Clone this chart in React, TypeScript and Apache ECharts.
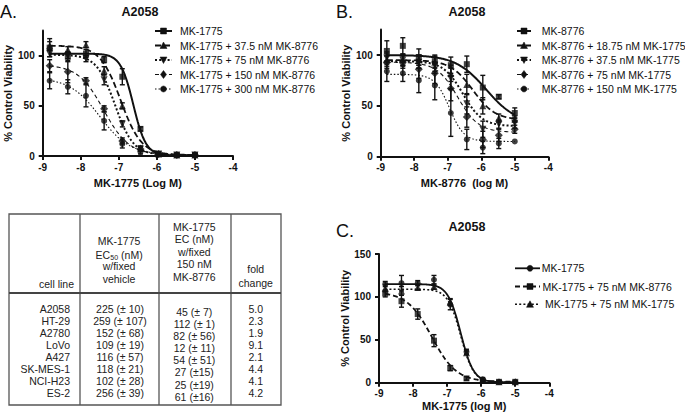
import React, { useEffect, useRef } from "react";
import * as echarts from "echarts";

const FONT = '"Liberation Sans", Arial, Helvetica, sans-serif';
const INK = "#111";
const TABLE_INK = "#222";

// ---------- shared x values (log M, 3-fold dilutions) ----------
const logConc = [-8.817, -8.34, -7.863, -7.386, -6.908, -6.431, -5.954, -5.477, -5.0];

// ---------- Panel A : MK-1775 with fixed MK-8776 ----------
const aLabels = [
  "MK-1775",
  "MK-1775 + 37.5 nM MK-8776",
  "MK-1775 + 75 nM MK-8776",
  "MK-1775 + 150 nM MK-8776",
  "MK-1775 + 300 nM MK-8776",
];
const aMK1775 = [108, 99, 102, 96, 79, 27, 2, 1, 1];
const aMK1775Err = [9, 5, 4, 3, 8, 2, 1, 1, 1];
const aPlus37 = [110, 106, 111, 85, 50, 8, 2, 1, 1];
const aPlus37Err = [4, 3, 3, 4, 3, 2, 1, 1, 1];
const aPlus75 = [102, 100, 97, 76, 32, 7, 2, 1, 1];
const aPlus75Err = [3, 3, 3, 5, 3, 2, 1, 1, 1];
const aPlus150 = [90, 84, 75, 47, 15, 7, 2, 1, 1];
const aPlus150Err = [6, 11, 3, 3, 3, 2, 1, 1, 1];
const aPlus300 = [75, 69, 60, 35, 12, 4, 2, 1, 1];
const aPlus300Err = [8, 7, 11, 9, 4, 2, 1, 1, 1];
// fitted curve parameters: [top, bottom, logEC50, hill]
const aFitMK1775 = [102, 0.5, -6.62, 2.6];
const aFitPlus37 = [110, 1, -6.95, 1.6];
const aFitPlus75 = [101, 1, -7.1, 1.8];
const aFitPlus150 = [91, 1, -7.4, 1.3];
const aFitPlus300 = [78, 1, -7.5, 1.1];

// ---------- Panel B : MK-8776 with fixed MK-1775 ----------
const bLabels = [
  "MK-8776",
  "MK-8776 + 18.75 nM MK-1775",
  "MK-8776 + 37.5 nM MK-1775",
  "MK-8776 + 75 nM MK-1775",
  "MK-8776 + 150 nM MK-1775",
];
const bMK8776 = [104, 109, 98, 94, 90, 91, 68, 59, 43];
const bMK8776Err = [10, 8, 8, 6, 8, 8, 12, 2, 5];
const bPlus18 = [95, 95, 95, 93, 82, 71, 50, 38, 37];
const bPlus18Err = [6, 6, 5, 6, 8, 10, 8, 4, 3];
const bPlus37 = [97, 95, 93, 90, 77, 52, 27, 32, 33];
const bPlus37Err = [6, 5, 6, 8, 10, 10, 8, 4, 5];
const bPlus75 = [93, 93, 86, 82, 67, 39, 17, 21, 27];
const bPlus75Err = [6, 6, 9, 10, 12, 10, 8, 6, 4];
const bPlus150 = [84, 82, 75, 70, 43, 17, 9, 13, 15];
const bPlus150Err = [10, 8, 12, 14, 23, 10, 6, 5, 0];
const bFitMK8776 = [100, 32, -5.85, 0.95];
const bFitPlus18 = [95, 36, -6.25, 1.3];
const bFitPlus37 = [94, 30, -6.55, 1.5];
const bFitPlus75 = [93, 24, -6.7, 1.4];
const bFitPlus150 = [81, 15, -6.95, 2];

// ---------- Panel C ----------
const cLabels = ["MK-1775", "MK-1775 + 75 nM MK-8776", "MK-1775 + 75 nM MK-1775"];
const cMK1775 = [115, 116, 116, 120, 91, 36, 4, 1, 1];
const cMK1775Err = [3, 9, 3, 5, 6, 3, 2, 1, 1];
const cPlus8776 = [104, 95, 80, 49, 17, 5, 2, 1, 1];
const cPlus8776Err = [4, 7, 6, 7, 3, 2, 1, 1, 1];
const cPlus1775 = [110, 107, 111, 112, 94, 35, 3, 1, 1];
const cPlus1775Err = [4, 5, 3, 3, 4, 2, 1, 1, 1];
const cFitMK1775 = [115, 0.5, -6.6, 2.3];
const cFitPlus8776 = [106, 1, -7.45, 1.2];
const cFitPlus1775 = [109, 0.5, -6.6, 2.3];

// ---------- Table ----------
const tableCellLines = ["A2058", "HT-29", "A2780", "LoVo", "A427", "SK-MES-1", "NCI-H23", "ES-2"];
const tableVehicleEC50 = ["225 (± 10)", "259 (± 107)", "152 (± 68)", "109 (± 19)", "116 (± 57)", "118 (± 21)", "102 (± 28)", "256 (± 39)"];
const tableFixedEC50 = ["45 (± 7)", "112 (± 1)", "82 (± 56)", "12 (± 11)", "54 (± 51)", "27 (±15)", "25 (±19)", "61 (±16)"];
const tableFoldChange = ["5.0", "2.3", "1.9", "9.1", "2.1", "4.4", "4.1", "4.2"];

// ---------- styles ----------
const lineStyles5 = [
  { type: "solid", width: 2 },
  { type: [6, 3], width: 1.8 },
  { type: [2, 2.2], width: 2 },
  { type: [4, 3], width: 1.1 },
  { type: [1.5, 2], width: 1.1 },
];
const symbols5 = ["square", "triangle", "invtriangle", "diamond", "circle"];
const lineStylesC = [
  { type: "solid", width: 1.8 },
  { type: [5, 3], width: 1.8 },
  { type: [2, 2.2], width: 1.6 },
];
const symbolsC = ["circle", "square", "triangle"];

function logistic(p: number[], x: number) {
  const [top, bottom, x0, h] = p;
  return bottom + (top - bottom) / (1 + Math.pow(10, h * (x - x0)));
}
function fitCurve(p: number[]) {
  const pts: number[][] = [];
  const x0 = logConc[0];
  const x1 = logConc[logConc.length - 1];
  const n = 160;
  for (let i = 0; i <= n; i++) {
    const x = x0 + ((x1 - x0) * i) / n;
    pts.push([x, logistic(p, x)]);
  }
  return pts;
}

function seriesSymbol(s: string) {
  switch (s) {
    case "square":
      return { symbol: "rect", symbolSize: 6, symbolRotate: 0 };
    case "triangle":
      return { symbol: "triangle", symbolSize: 7, symbolRotate: 0 };
    case "invtriangle":
      return { symbol: "triangle", symbolSize: 7, symbolRotate: 180 };
    case "diamond":
      return { symbol: "diamond", symbolSize: 8, symbolRotate: 0 };
    default:
      return { symbol: "circle", symbolSize: 6, symbolRotate: 0 };
  }
}

function errorBarSeries(idx: number, vals: number[], errs: number[]) {
  return {
    type: "custom",
    xAxisIndex: idx,
    yAxisIndex: idx,
    silent: true,
    z: 3,
    encode: { x: 0, y: 1 },
    data: logConc.map((x, i) => [x, vals[i], errs[i]]),
    renderItem: (_p: any, api: any) => {
      const x = api.value(0);
      const y = api.value(1);
      const e = api.value(2);
      if (!e) return { type: "group", children: [] };
      const hi = api.coord([x, y + e]);
      const lo = api.coord([x, y - e]);
      const st = { stroke: INK, lineWidth: 1.4 };
      const cap = 2.5;
      return {
        type: "group",
        children: [
          { type: "line", shape: { x1: hi[0], y1: hi[1], x2: lo[0], y2: lo[1] }, style: st },
          { type: "line", shape: { x1: hi[0] - cap, y1: hi[1], x2: hi[0] + cap, y2: hi[1] }, style: st },
          { type: "line", shape: { x1: lo[0] - cap, y1: lo[1], x2: lo[0] + cap, y2: lo[1] }, style: st },
        ],
      };
    },
  };
}

function panelSeries(idx: number, vals: number[][], errs: number[][], fits: number[][], styles: any[], syms: string[], names: string[]) {
  const out: any[] = [];
  vals.forEach((v, k) => {
    out.push({
      type: "line",
      name: names[k] + " fit",
      xAxisIndex: idx,
      yAxisIndex: idx,
      showSymbol: false,
      silent: true,
      z: 2,
      lineStyle: { color: INK, width: styles[k].width, type: styles[k].type },
      data: fitCurve(fits[k]),
    });
    out.push(errorBarSeries(idx, v, errs[k]));
    out.push({
      type: "scatter",
      name: names[k],
      xAxisIndex: idx,
      yAxisIndex: idx,
      z: 4,
      ...seriesSymbol(syms[k]),
      itemStyle: { color: INK },
      data: logConc.map((x, i) => [x, v[i]]),
    });
  });
  return out;
}

// ---------- graphic helpers ----------
function txt(x: number, y: number, text: string, o: any = {}) {
  const align = o.align || "left";
  return {
    type: "text",
    x,
    y,
    silent: true,
    style: {
      text,
      fill: o.fill || INK,
      fontSize: o.size || 10.5,
      fontWeight: o.weight || "normal",
      fontFamily: FONT,
      textAlign: align,
      align,
      textVerticalAlign: "middle",
      verticalAlign: "middle",
    },
  };
}
function gLine(x1: number, y1: number, x2: number, y2: number, w: number, color: string, dash?: any) {
  return {
    type: "line",
    silent: true,
    shape: { x1, y1, x2, y2 },
    style: { stroke: color, lineWidth: w, lineDash: dash || null },
  };
}
function gSymbol(kind: string, x: number, y: number) {
  const st = { fill: INK, stroke: INK, lineWidth: 0.5 };
  switch (kind) {
    case "square":
      return { type: "rect", silent: true, shape: { x: x - 3, y: y - 3, width: 6, height: 6 }, style: st };
    case "triangle":
      return { type: "polygon", silent: true, shape: { points: [[x, y - 3.5], [x + 3.5, y + 3], [x - 3.5, y + 3]] }, style: st };
    case "invtriangle":
      return { type: "polygon", silent: true, shape: { points: [[x, y + 3.5], [x + 3.5, y - 3], [x - 3.5, y - 3]] }, style: st };
    case "diamond":
      return { type: "polygon", silent: true, shape: { points: [[x, y - 4], [x + 3, y], [x, y + 4], [x - 3, y]] }, style: st };
    default:
      return { type: "circle", silent: true, shape: { cx: x, cy: y, r: 3 }, style: st };
  }
}
function dashOf(t: any) {
  return Array.isArray(t) ? t : null;
}

function buildGraphic() {
  const g: any[] = [];
  // panel letters and titles
  g.push(txt(0, 12, "A.", { size: 18 }));
  g.push(txt(336, 12, "B.", { size: 18 }));
  g.push(txt(336, 231, "C.", { size: 18 }));
  g.push(txt(140, 12, "A2058", { size: 12.5, weight: "bold", align: "center" }));
  g.push(txt(467, 12, "A2058", { size: 12.5, weight: "bold", align: "center" }));
  g.push(txt(467, 227, "A2058", { size: 12.5, weight: "bold", align: "center" }));

  // legend A
  const legY = [31, 45.5, 60, 74.5, 89];
  aLabels.forEach((lab, k) => {
    g.push(gLine(155, legY[k], 172, legY[k], lineStyles5[k].width, INK, dashOf(lineStyles5[k].type)));
    g.push(gSymbol(symbols5[k], 163.5, legY[k]));
    g.push(txt(180, legY[k], lab));
  });
  // legend B
  bLabels.forEach((lab, k) => {
    g.push(gLine(517, legY[k], 531, legY[k], lineStyles5[k].width, INK, dashOf(lineStyles5[k].type)));
    g.push(gSymbol(symbols5[k], 524, legY[k]));
    g.push(txt(541.7, legY[k], lab));
  });
  // legend C
  const legYC = [268.3, 286.5, 304.3];
  const legTextXC = [541.7, 542.5, 545];
  cLabels.forEach((lab, k) => {
    g.push(gLine(515, legYC[k], 540, legYC[k], lineStylesC[k].width, INK, dashOf(lineStylesC[k].type)));
    g.push(gSymbol(symbolsC[k], 530, legYC[k]));
    g.push(txt(legTextXC[k], legYC[k], lab));
  });

  // table frame
  const TL = 9, TR = 281, TT = 214, TB = 405, HB = 293;
  const colX = [80, 159, 231];
  g.push({ type: "rect", silent: true, shape: { x: TL, y: TT, width: TR - TL, height: TB - TT }, style: { fill: "none", stroke: "#555", lineWidth: 1.3 } });
  colX.forEach((x) => g.push(gLine(x, TT, x, TB, 1.3, "#555")));
  g.push(gLine(TL, HB, TR, HB, 1.8, "#444"));

  // header
  const tOpt = { fill: TABLE_INK, align: "center" };
  g.push(txt(74, 283.7, "cell line", { fill: TABLE_INK, align: "right" }));
  g.push(txt(119, 241.3, "MK-1775", tOpt));
  // EC50 with subscript
  g.push(txt(95.5, 254.7, "EC", { fill: TABLE_INK }));
  g.push(txt(110.3, 257.5, "50", { fill: TABLE_INK, size: 7 }));
  g.push(txt(118.2, 254.7, " (nM)", { fill: TABLE_INK }));
  g.push(txt(119, 266.3, "w/fixed", tOpt));
  g.push(txt(119, 278.7, "vehicle", tOpt));
  g.push(txt(194.3, 227, "MK-1775", tOpt));
  g.push(txt(194.3, 239.3, "EC (nM)", tOpt));
  g.push(txt(194.3, 252, "w/fixed", tOpt));
  g.push(txt(194.3, 264.3, "150 nM", tOpt));
  g.push(txt(194.3, 277, "MK-8776", tOpt));
  g.push(txt(255.7, 269.3, "fold", tOpt));
  g.push(txt(255.7, 282.7, "change", tOpt));

  // body
  tableCellLines.forEach((c, i) => {
    const y = 309 + i * 11.96;
    const y3 = 311.7 + i * 12.15;
    g.push(txt(70, y, c, { fill: TABLE_INK, align: "right" }));
    g.push(txt(120, y, tableVehicleEC50[i], tOpt));
    g.push(txt(194.3, y3, tableFixedEC50[i], tOpt));
    g.push(txt(255.7, y, tableFoldChange[i], tOpt));
  });
  return g;
}

function xAxisCfg(idx: number, name: string, gap: number) {
  return {
    type: "value",
    gridIndex: idx,
    min: -9,
    max: -4,
    interval: 1,
    name,
    nameLocation: "middle",
    nameGap: gap,
    nameMoveOverlap: false,
    nameTextStyle: { fontSize: 11, fontWeight: "bold", color: INK, fontFamily: FONT },
    axisLine: { show: true, onZero: false, lineStyle: { color: INK, width: 2 } },
    axisTick: { show: true, length: 4, lineStyle: { color: INK, width: 2 } },
    axisLabel: { fontSize: 10, fontWeight: "bold", color: INK, margin: 6, fontFamily: FONT },
    splitLine: { show: false },
  };
}
function yAxisCfg(idx: number, max: number, ticks: number[]) {
  return {
    type: "value",
    gridIndex: idx,
    min: 0,
    max,
    name: "% Control Viability",
    nameLocation: "middle",
    nameGap: 29,
    nameMoveOverlap: false,
    nameTextStyle: { fontSize: 11, fontWeight: "bold", color: INK, fontFamily: FONT },
    axisLine: { show: true, onZero: false, lineStyle: { color: INK, width: 2 } },
    axisTick: { show: true, length: 4, lineStyle: { color: INK, width: 2 }, customValues: ticks },
    axisLabel: { fontSize: 10, fontWeight: "bold", color: INK, margin: 8, fontFamily: FONT, customValues: ticks },
    splitLine: { show: false },
  };
}

export default function App() {
  const ref = useRef<HTMLDivElement>(null);
  useEffect(() => {
    if (!ref.current) return;
    const chart = echarts.init(ref.current, null, { renderer: "svg" });
    const series = [
      ...panelSeries(0, [aMK1775, aPlus37, aPlus75, aPlus150, aPlus300], [aMK1775Err, aPlus37Err, aPlus75Err, aPlus150Err, aPlus300Err],
        [aFitMK1775, aFitPlus37, aFitPlus75, aFitPlus150, aFitPlus300], lineStyles5, symbols5, aLabels),
      ...panelSeries(1, [bMK8776, bPlus18, bPlus37, bPlus75, bPlus150], [bMK8776Err, bPlus18Err, bPlus37Err, bPlus75Err, bPlus150Err],
        [bFitMK8776, bFitPlus18, bFitPlus37, bFitPlus75, bFitPlus150], lineStyles5, symbols5, bLabels),
      ...panelSeries(2, [cMK1775, cPlus8776, cPlus1775], [cMK1775Err, cPlus8776Err, cPlus1775Err],
        [cFitMK1775, cFitPlus8776, cFitPlus1775], lineStylesC, symbolsC, cLabels),
    ];
    chart.setOption({
      animation: false,
      backgroundColor: "#fff",
      textStyle: { fontFamily: FONT },
      grid: [
        { left: 42.7, top: 30.6, width: 190.3, height: 125.4, outerBoundsMode: "none", containLabel: false },
        { left: 380.7, top: 29.6, width: 167.6, height: 127.1, outerBoundsMode: "none", containLabel: false },
        { left: 379, top: 254, width: 170.3, height: 128.7, outerBoundsMode: "none", containLabel: false },
      ],
      xAxis: [
        xAxisCfg(0, "MK-1775 (Log M)", 21),
        xAxisCfg(1, "MK-8776  (log M)", 21),
        xAxisCfg(2, "MK-1775 (log M)", 18),
      ],
      yAxis: [
        yAxisCfg(0, 125, [0, 50, 100]),
        yAxisCfg(1, 125, [0, 50, 100]),
        yAxisCfg(2, 150, [0, 50, 100, 150]),
      ],
      series,
      graphic: buildGraphic(),
    });
    return () => chart.dispose();
  }, []);
  return <div ref={ref} style={{ position: "absolute", left: 0, top: 0, width: 685, height: 413 }} />;
}
